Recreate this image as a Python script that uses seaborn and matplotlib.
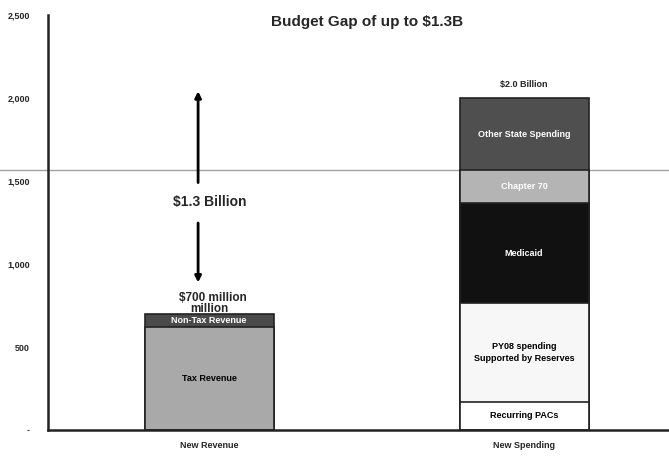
import matplotlib
matplotlib.use("Agg")
import matplotlib.pyplot as plt
import seaborn as sns
import pandas as pd

# === data ===
categories = ["New Revenue", "New Spending"]

revenue_segments = ["Tax Revenue", "Non-Tax Revenue"]
revenue_values = [620, 80]

spending_segments = ["Recurring PACs", "PY08 spending\nSupported by Reserves",
                     "Medicaid", "Chapter 70", "Other State Spending"]
spending_values = [170, 595, 600, 200, 435]

yticks = [0, 500, 1000, 1500, 2000, 2500]
ytick_labels = ["-", "500", "1,000", "1,500", "2,000", "2,500"]

seg_colors = {
    "Tax Revenue": "#a9a9a9",
    "Non-Tax Revenue": "#4a4a4a",
    "Recurring PACs": "#ffffff",
    "PY08 spending\nSupported by Reserves": "#f7f7f7",
    "Medicaid": "#111111",
    "Chapter 70": "#b4b4b4",
    "Other State Spending": "#4f4f4f",
}
text_colors = {
    "Tax Revenue": "black",
    "Non-Tax Revenue": "white",
    "Recurring PACs": "black",
    "PY08 spending\nSupported by Reserves": "black",
    "Medicaid": "white",
    "Chapter 70": "white",
    "Other State Spending": "white",
}

# build a long table with bottoms / tops
rows = []
for cat, segs, vals in [(categories[0], revenue_segments, revenue_values),
                        (categories[1], spending_segments, spending_values)]:
    bottom = 0
    for s, v in zip(segs, vals):
        rows.append({"category": cat, "segment": s, "value": v,
                     "bottom": bottom, "top": bottom + v})
        bottom += v
df = pd.DataFrame(rows)

sns.set_style("white")
plt.rcParams["font.family"] = ["Liberation Sans", "DejaVu Sans"]

fig = plt.figure(figsize=(6.69, 4.57), dpi=100)
ax = fig.add_axes([0.072, 0.059, 0.928, 0.908])

# stacked bars: draw cumulative tops, tallest first, so lower segments overlay
for _, r in df.sort_values("top", ascending=False).iterrows():
    sns.barplot(x=[r["category"]], y=[r["top"]], order=categories, ax=ax,
                color=seg_colors[r["segment"]], width=0.41,
                edgecolor="#222222", linewidth=1.2, saturation=1)

for _, r in df.iterrows():
    xi = categories.index(r["category"])
    ax.text(xi, r["bottom"] + r["value"] / 2, r["segment"], ha="center", va="center",
            fontsize=6.5, fontweight="bold", color=text_colors[r["segment"]],
            linespacing=1.4)

# totals
ax.text(1, 2080, "$2.0 Billion", ha="center", va="center", fontsize=6.5, fontweight="bold")
ax.text(0.013, 794, "$700 million", ha="center", va="center", fontsize=8.5, fontweight="bold")
ax.text(0.0, 728, "million", ha="center", va="center", fontsize=8.5, fontweight="bold")

# gap arrow
ax.annotate("", xy=(-0.035, 2058), xytext=(-0.035, 1474),
            arrowprops=dict(arrowstyle="-|>", color="black", lw=2, mutation_scale=9))
ax.annotate("", xy=(-0.035, 872), xytext=(-0.035, 1264),
            arrowprops=dict(arrowstyle="-|>", color="black", lw=2, mutation_scale=9))
ax.text(0.003, 1372, "$1.3 Billion", ha="center", va="center", fontsize=10, fontweight="bold")

# faint scan line across the page
ax.axhline(1565, xmin=-0.078, xmax=1, color="#a0a0a0", lw=1, clip_on=False, zorder=0)

ax.set_xlim(-0.511, 1.46)
ax.set_ylim(0, 2500)
ax.set_yticks(yticks)
ax.set_yticklabels(ytick_labels, fontsize=6.5, fontweight="bold")
ax.set_xticks([0, 1])
ax.set_xticklabels(categories, fontsize=6.5, fontweight="bold")
ax.tick_params(axis="y", direction="out", length=3, width=1.2, pad=10)
ax.tick_params(axis="x", length=0, pad=8)
ax.set_xlabel("")
ax.set_ylabel("")

sns.despine(ax=ax, top=True, right=True)
for sp in ["left", "bottom"]:
    ax.spines[sp].set_linewidth(1.8)
    ax.spines[sp].set_color("#222222")

fig.text(367 / 669, 1 - 22 / 457, "Budget Gap of up to $1.3B", ha="center", va="center",
         fontsize=11, fontweight="bold")

fig.savefig("out.png", dpi=100)
plt.close()
